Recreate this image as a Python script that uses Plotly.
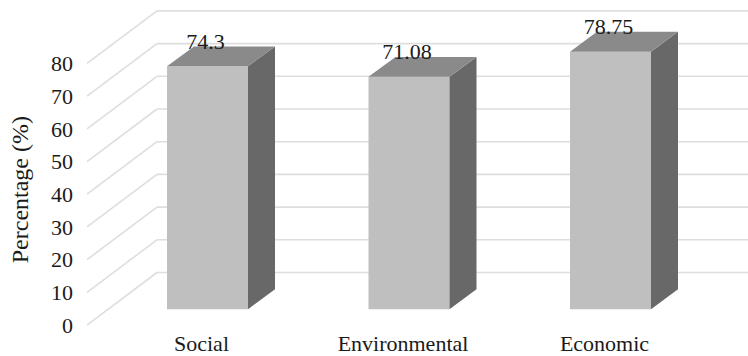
import plotly.graph_objects as go

# ---- data ----
categories = ["Social", "Environmental", "Economic"]
values = [74.3, 71.08, 78.75]
y_ticks = [0, 10, 20, 30, 40, 50, 60, 70, 80]

# ---- page / plot-area geometry (pixels) ----
W, H = 748, 356
M_L, M_R, M_T, M_B = 80, 0, 0, 26
PX_PER_CAT = 201.5      # distance between neighbouring categories
PX_PER_UNIT = 3.3       # pixels per percentage point
plot_w = W - M_L - M_R
plot_h = H - M_T - M_B

# axis ranges chosen so that category 0 sits at x=207.5 px and value 0 at y=312 px
x_lo = -(207.5 - M_L) / PX_PER_CAT
x_hi = x_lo + plot_w / PX_PER_CAT
y_lo = -((H - M_B) - 312) / PX_PER_UNIT
y_hi = y_lo + plot_h / PX_PER_UNIT

def dx(px):
    return px / PX_PER_CAT

def dy(px):
    return px / PX_PER_UNIT

# 3-D offsets relative to the plane of the bar fronts
BAR_W = dx(81)
BAR_DX, BAR_DY = dx(27), dy(20)          # depth of each box
FRONT_DX, FRONT_DY = dx(-21), dy(-16)    # front edge of the left wall / floor
BACK_DX, BACK_DY = dx(49), dy(37)        # back wall
WALL_X_FRONT = dx(87 - 207.5)
WALL_X_BACK = WALL_X_FRONT + dx(70)

GRID = "#dedede"
FRONT_C = "#bebfbe"
TOP_C = "#8a8a8a"
SIDE_C = "#686868"
TXT = "#1a1a1a"
FONT = "Liberation Serif, Times New Roman, Times, serif"
FS = 22

fig = go.Figure()

# gridlines: diagonal on the left wall, horizontal along the back wall
shapes = []
for v in y_ticks:
    shapes.append(dict(type="line", xref="x", yref="y", layer="below",
                       x0=WALL_X_FRONT, y0=v + FRONT_DY,
                       x1=WALL_X_BACK, y1=v + BACK_DY,
                       line=dict(color=GRID, width=1.6)))
    shapes.append(dict(type="line", xref="x", yref="y", layer="below",
                       x0=WALL_X_BACK, y0=v + BACK_DY,
                       x1=x_hi + 0.05, y1=v + BACK_DY,
                       line=dict(color=GRID, width=1.6)))

# front faces of the boxes
xs = list(range(len(categories)))
fig.add_trace(go.Bar(x=xs, y=values, width=BAR_W, marker=dict(color=FRONT_C, line=dict(width=0)),
                     hoverinfo="skip"))

# side and top faces
for i, v in zip(xs, values):
    xl, xr = i - BAR_W / 2, i + BAR_W / 2
    fig.add_trace(go.Scatter(
        x=[xr, xr + BAR_DX, xr + BAR_DX, xr, xr],
        y=[0, BAR_DY, v + BAR_DY, v, 0],
        fill="toself", fillcolor=SIDE_C, mode="lines", line=dict(width=0, color=SIDE_C),
        hoverinfo="skip"))
    fig.add_trace(go.Scatter(
        x=[xl, xr, xr + BAR_DX, xl + BAR_DX, xl],
        y=[v, v, v + BAR_DY, v + BAR_DY, v],
        fill="toself", fillcolor=TOP_C, mode="lines", line=dict(width=0, color=TOP_C),
        hoverinfo="skip"))

# value labels above the boxes
fig.add_trace(go.Scatter(
    x=[i + dx(-2) for i in xs], y=[v + dy(23) for v in values], mode="text",
    text=[str(v) for v in values], textposition="middle center",
    textfont=dict(family=FONT, size=FS, color=TXT), cliponaxis=False, hoverinfo="skip"))

fig.update_layout(
    width=W, height=H, autosize=False,
    margin=dict(l=M_L, r=M_R, t=M_T, b=M_B, pad=0),
    paper_bgcolor="white", plot_bgcolor="white",
    showlegend=False, hovermode=False,
    shapes=shapes,
    font=dict(family=FONT, size=FS, color=TXT),
    xaxis=dict(range=[x_lo, x_hi], showgrid=False, zeroline=False, showline=False,
               tickmode="array", tickvals=[i + dx(-6) for i in xs], ticktext=categories,
               ticks="", ticklabelstandoff=1, tickfont=dict(family=FONT, size=FS, color=TXT)),
    yaxis=dict(range=[y_lo, y_hi], showgrid=False, zeroline=False, showline=False,
               tickmode="array", tickvals=[v + FRONT_DY for v in y_ticks],
               ticktext=[str(v) for v in y_ticks],
               ticks="", ticklabelstandoff=6, tickfont=dict(family=FONT, size=FS, color=TXT)),
    annotations=[dict(text="Percentage (%)", textangle=-90, showarrow=False,
                      xref="paper", yref="paper",
                      x=(20 - M_L) / plot_w, y=((H - M_B) - 192) / plot_h,
                      xanchor="center", yanchor="middle",
                      font=dict(family=FONT, size=24, color=TXT))],
)

fig.write_html("out.html")
